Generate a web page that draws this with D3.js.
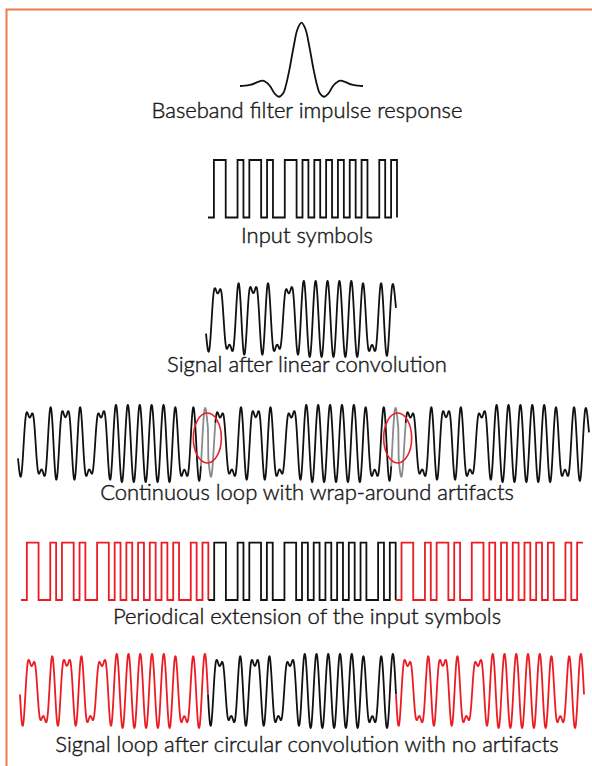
<!DOCTYPE html>
<html>
<head>
<meta charset="utf-8">
<script src="https://cdn.jsdelivr.net/npm/d3@7"></script>
<style>
  body { margin: 0; background: #fff; }
  text { font-family: Lato, "Open Sans", sans-serif; font-weight: 300; fill: #1a1a1a; stroke: #1a1a1a; stroke-width: 0.45px; }
</style>
</head>
<body>
<svg id="chart" width="592" height="766"></svg>
<script>
// one period of binary input symbols
const symbols = [0, 1, 1, 0, 0, 1, 0, 1, 1, 0, 1, 0, 0, 1, 1, 0,
                 1, 0, 1, 0, 1, 0, 1, 0, 1, 0, 1, 0, 0, 1, 0, 1];
// baseband filter impulse response, time in units of its zero-crossing spacing
const pulseT = [-3.9, -3.6, -3.2, -2.8, -2.46, -2.2, -2, -1.7, -1.43, -1.15, -1, -0.75, -0.5, -0.25,
                0, 0.25, 0.5, 0.75, 1, 1.15, 1.43, 1.7, 2, 2.2, 2.46, 2.8, 3.2, 3.6, 3.9];
const pulseV = [0, 0.005, 0.02, 0.06, 0.084, 0.05, 0, -0.12, -0.17, -0.11, 0, 0.28, 0.62, 0.9,
                1, 0.9, 0.62, 0.28, 0, -0.11, -0.17, -0.12, 0, 0.05, 0.084, 0.06, 0.02, 0.005, 0];
const captions = [
    "Baseband filter impulse response",
    "Input symbols",
    "Signal after linear convolution",
    "Continuous loop with wrap-around artifacts",
    "Periodical extension of the input symbols",
    "Signal loop after circular convolution with no artifacts"
];
const periodColors = ["#ec1c24", "#111", "#ec1c24"];

const N = symbols.length;
const STEPS = 16;          // samples per symbol
const KERNEL_UNIT = 0.6;   // symbols per pulse time unit
const ARTIFACT_HALF = 1.2; // symbols each side of a seam drawn grey

const svg = d3.select("#chart");
const INK = "#111";

// frame
svg.append("path")
    .attr("d", "M6.5,766V9.5H592")
    .attr("fill", "none")
    .attr("stroke", "#ee7d48")
    .attr("stroke-width", 2);

// ---- impulse response
const px = d3.scaleLinear().domain([-3.9, 3.9]).range([240, 363]);
const py = d3.scaleLinear().domain([0, 1]).range([86, 22.7]);
svg.append("path")
    .datum(pulseT.map((t, i) => [t, pulseV[i]]))
    .attr("fill", "none")
    .attr("stroke", INK)
    .attr("stroke-width", 1.8)
    .attr("d", d3.line().x(d => px(d[0])).y(d => py(d[1])).curve(d3.curveCatmullRom));

// ---- convolution of the NRZ symbols with the pulse above
const pulse = d3.scaleLinear().domain(pulseT).range(pulseV);
const halfK = Math.ceil(3.9 * KERNEL_UNIT * STEPS);
const kernel = d3.range(-halfK, halfK + 1).map(m => {
    const t = m / STEPS / KERNEL_UNIT;
    return Math.abs(t) > 3.9 ? 0 : pulse(t);
});
const kSum = d3.sum(kernel);
const level = i => symbols[i] ? 1 : -1;

function convolve(levelAt, count) {
    return d3.range(count).map(n => {
        let acc = 0;
        for (let m = -halfK; m <= halfK; m++) acc += kernel[m + halfK] * levelAt(n - m);
        return {t: n / STEPS, v: acc / kSum};
    });
}
const linear = convolve(j => (j < 0 || j >= N * STEPS) ? 0 : level(Math.floor(j / STEPS)), N * STEPS + 1);
const circ = convolve(j => level(((Math.floor(j / STEPS) % N) + N) % N), N * STEPS);

// ---- helpers
function stepLine(x, y) {
    return d3.line().x(d => x(d[0])).y(d => y(d[1])).curve(d3.curveStepAfter);
}
function periodSteps(offset, endLevel) {
    const pts = symbols.map((s, i) => [offset + i, s]);
    pts.push([offset + N, symbols[N - 1]]);
    if (endLevel !== null) pts.push([offset + N, endLevel]);
    return pts;
}
function signalPath(data, x, y, color) {
    svg.append("path")
        .datum(data)
        .attr("fill", "none")
        .attr("stroke", color)
        .attr("stroke-width", 1.8)
        .attr("stroke-linejoin", "round")
        .attr("d", d3.line().x(d => x(d.t)).y(d => y(d.v)).curve(d3.curveMonotoneX));
}
function caption(i, y) {
    svg.append("text")
        .attr("x", 307)
        .attr("y", y)
        .attr("text-anchor", "middle")
        .attr("font-size", 22)
        .text(captions[i]);
}
const ext = d3.extent(linear, d => d.v);
const extC = d3.extent(circ, d => d.v);

// ---- input symbols
const sx = d3.scaleLinear().domain([0, N]).range([208, 397]);
const sy = d3.scaleLinear().domain([0, 1]).range([217.5, 160]);
svg.append("path")
    .datum(periodSteps(0, symbols[0]))
    .attr("fill", "none")
    .attr("stroke", INK)
    .attr("stroke-width", 1.8)
    .attr("d", stepLine(sx, sy));

// ---- linear convolution
const lx = d3.scaleLinear().domain([0, N]).range([206, 396]);
const ly = d3.scaleLinear().domain(ext).range([357, 281]);
signalPath(linear, lx, ly, INK);

// ---- loop of linear convolutions with seams
const ax = d3.scaleLinear().domain([0, 3 * N]).range([18, 589]);
const ay = d3.scaleLinear().domain(ext).range([482, 405]);
const loop = [];
for (let c = 0; c < 3; c++) {
    const part = c < 2 ? linear.slice(0, -1) : linear;
    part.forEach(d => loop.push({t: d.t + c * N, v: d.v}));
}
const seams = [N, 2 * N];
const isGrey = d => seams.some(s => Math.abs(d.t - s) <= ARTIFACT_HALF);
// split into runs of black / grey
const runs = [];
loop.forEach((d, i) => {
    const g = isGrey(d);
    if (!runs.length || runs[runs.length - 1].grey !== g) {
        const run = {grey: g, pts: []};
        if (i > 0) run.pts.push(loop[i - 1]);
        runs.push(run);
    }
    runs[runs.length - 1].pts.push(d);
});
runs.forEach(r => signalPath(r.pts, ax, ay, r.grey ? "#8a8a8a" : INK));
seams.forEach(s => {
    svg.append("ellipse")
        .attr("cx", ax(s) - 1)
        .attr("cy", 438)
        .attr("rx", 14)
        .attr("ry", 25)
        .attr("fill", "none")
        .attr("stroke", "#e8202a")
        .attr("stroke-width", 1.6);
});

// ---- periodic extension of the symbols
const ex = d3.scaleLinear().domain([0, 3 * N]).range([21, 583]);
const ey = d3.scaleLinear().domain([0, 1]).range([600, 542.7]);
periodColors.forEach((col, c) => {
    svg.append("path")
        .datum(periodSteps(c * N, c < 2 ? symbols[0] : null))
        .attr("fill", "none")
        .attr("stroke", col)
        .attr("stroke-width", 1.8)
        .attr("d", stepLine(ex, ey));
});

// ---- circular convolution, repeated
const cx = d3.scaleLinear().domain([0, 3 * N]).range([20, 584]);
const cy = d3.scaleLinear().domain(extC).range([728, 654]);
periodColors.forEach((col, c) => {
    const pts = circ.map(d => ({t: d.t + c * N, v: d.v}));
    pts.push({t: (c + 1) * N, v: circ[0].v});
    signalPath(pts, cx, cy, col);
});

// ---- captions
caption(0, 118);
caption(1, 243);
caption(2, 372);
caption(3, 500);
caption(4, 624);
caption(5, 752);
</script>
</body>
</html>
